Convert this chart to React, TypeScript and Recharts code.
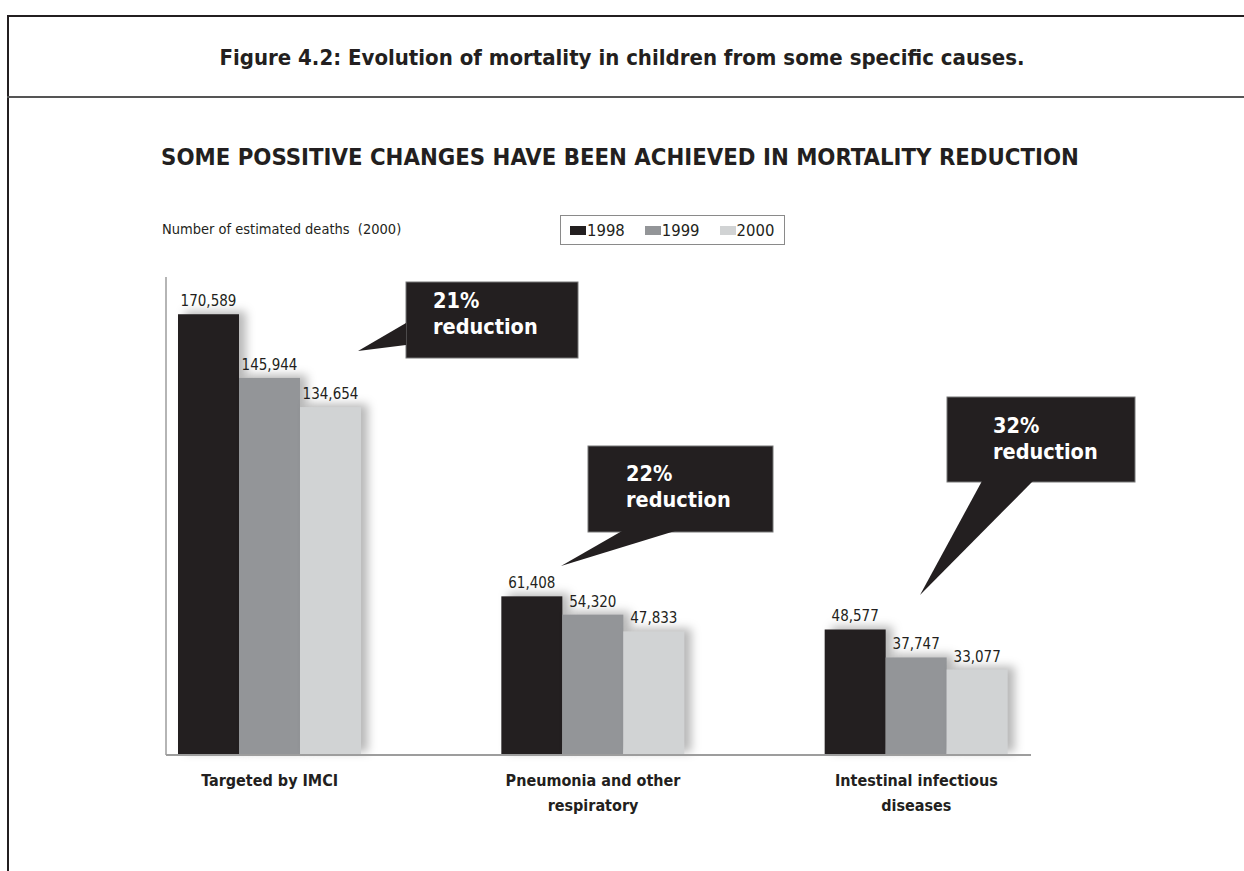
import React from 'react';
import { BarChart, Bar, XAxis, YAxis, LabelList, Legend } from 'recharts';

const categories = ['Targeted by IMCI', 'Pneumonia and other\nrespiratory', 'Intestinal infectious\ndiseases'];
const deaths1998 = [170589, 61408, 48577];
const deaths1999 = [145944, 54320, 37747];
const deaths2000 = [134654, 47833, 33077];
const years = ['1998', '1999', '2000'];
const reductions = ['21%', '22%', '32%'];

const data = categories.map((name, i) => ({
  name,
  '1998': deaths1998[i],
  '1999': deaths1999[i],
  '2000': deaths2000[i],
}));

const colors = ['#231f20', '#939598', '#d1d3d4'];
const FONT = "'Liberation Sans Narrow', 'DejaVu Sans Condensed', 'Liberation Sans', sans-serif";
const INK = '#231f20';

// speech bubbles: box [x, y, w, h], pointer triangle, text position
const bubbles = [
  { box: [406, 282, 172, 76], tri: '406,323 358,351 406,345', tx: 433, ty: 308 },
  { box: [588, 446, 185, 86], tri: '622,531 561,566 675,531', tx: 626, ty: 481 },
  { box: [947, 397, 188, 85], tri: '982,481 920,595 1033,481', tx: 993, ty: 433 },
];

const ShadowBar = (props: any) => {
  const { x, y, width, height, fill } = props;
  return (
    <rect
      x={x}
      y={y}
      width={width}
      height={height}
      fill={fill}
      style={{ filter: 'drop-shadow(7px -3px 5px rgba(0,0,0,0.28))' }}
    />
  );
};

const CategoryTick = ({ x, y, payload }: any) => {
  const lines = String(payload.value).split('\n');
  return (
    <text x={x} y={y} textAnchor="middle" fontFamily={FONT} fontWeight="bold" fontSize={16} fill={INK}>
      {lines.map((l, i) => (
        <tspan key={i} x={x} dy={i === 0 ? 31 : 25}>
          {l}
        </tspan>
      ))}
    </text>
  );
};

const LegendBox = ({ payload }: any) => (
  <div
    style={{
      display: 'flex',
      alignItems: 'center',
      width: 225,
      height: 30,
      border: '1px solid #8a8a8a',
      boxSizing: 'border-box',
      fontFamily: FONT,
      fontSize: 16.5,
      color: INK,
      paddingLeft: 9,
    }}
  >
    {(payload || []).map((p: any, i: number) => (
      <span key={i} style={{ display: 'flex', alignItems: 'center', marginRight: 20 }}>
        <span style={{ width: 16, height: 9, background: p.color, display: 'inline-block', marginRight: 1 }} />
        {p.value}
      </span>
    ))}
  </div>
);

export default function App() {
  return (
    <div style={{ position: 'absolute', left: 0, top: 0, width: 1244, height: 871, background: '#fff', overflow: 'hidden' }}>
      <div style={{ position: 'absolute', left: 7, top: 15, width: 1300, height: 900, border: `2px solid ${INK}` }} />
      <div style={{ position: 'absolute', left: 7, top: 96, width: 1300, height: 2, background: '#555' }} />

      <BarChart
        width={1244}
        height={871}
        data={data}
        margin={{ top: 277, right: 213, bottom: 115, left: 165 }}
        barSize={61}
        barGap={0}
        style={{ position: 'absolute', left: 0, top: 0 }}
      >
        <XAxis
          dataKey="name"
          height={1}
          padding={{ left: -58, right: -47 }}
          axisLine={{ stroke: '#9d9d9d', strokeWidth: 2 }}
          tickLine={false}
          tickSize={0}
          tickMargin={0}
          interval={0}
          tick={<CategoryTick />}
        />
        <YAxis width={1} domain={[0, 185000]} tick={false} tickLine={false} axisLine={{ stroke: '#9d9d9d', strokeWidth: 1.5 }} />
        <Legend
          layout="horizontal"
          verticalAlign="middle"
          align="center"
          content={<LegendBox />}
          wrapperStyle={{ position: 'absolute', left: 560, top: 215, width: 225 }}
        />
        {years.map((yr, i) => (
          <Bar key={yr} dataKey={yr} fill={colors[i]} shape={<ShadowBar />} isAnimationActive={false}>
            <LabelList
              dataKey={yr}
              position="top"
              offset={8}
              formatter={(v: any) => Number(v).toLocaleString('en-US')}
              style={{ fontFamily: FONT, fontSize: 15, fill: INK }}
            />
          </Bar>
        ))}
      </BarChart>

      <svg width={1244} height={871} style={{ position: 'absolute', left: 0, top: 0, pointerEvents: 'none' }}>
        <text x={622} y={65} textAnchor="middle" fontFamily={FONT} fontWeight="bold" fontSize={22} fill={INK}>
          Figure 4.2: Evolution of mortality in children from some specific causes.
        </text>
        <text x={620} y={165} textAnchor="middle" fontFamily={FONT} fontWeight="bold" fontSize={23.7} fill={INK}>
          SOME POSSITIVE CHANGES HAVE BEEN ACHIEVED IN MORTALITY REDUCTION
        </text>
        <text x={162} y={234} fontFamily={FONT} fontSize={14.5} fill={INK} style={{ whiteSpace: 'pre' }}>
          Number of estimated deaths  (2000)
        </text>
        {bubbles.map((b, i) => (
          <g key={i}>
            <rect x={b.box[0]} y={b.box[1]} width={b.box[2]} height={b.box[3]} fill={INK} stroke="#777" strokeWidth={1} />
            <polygon points={b.tri} fill={INK} />
            <text x={b.tx} y={b.ty} fontFamily={FONT} fontWeight="bold" fontSize={21.5} fill="#fff">
              {reductions[i]}
            </text>
            <text x={b.tx} y={b.ty + 26} fontFamily={FONT} fontWeight="bold" fontSize={21.5} fill="#fff">
              reduction
            </text>
          </g>
        ))}
      </svg>
    </div>
  );
}
